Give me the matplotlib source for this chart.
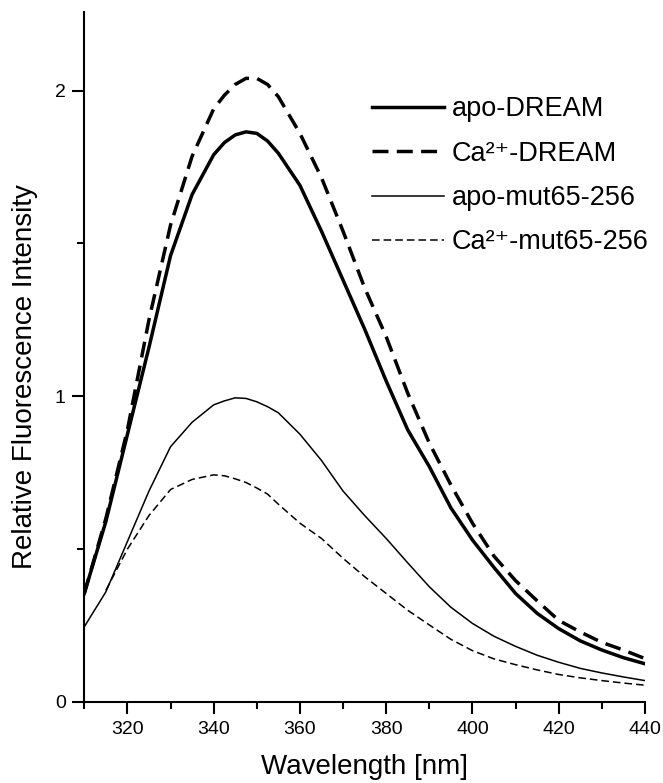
import matplotlib
matplotlib.use("Agg")
import matplotlib.pyplot as plt
from matplotlib.ticker import MultipleLocator

plt.rcParams['font.family'] = ['Liberation Sans', 'DejaVu Sans']

# Emission wavelengths (nm)
wavelength = [310, 315, 320, 325, 330, 335, 340, 342.5, 345, 347.5, 350, 352.5,
              355, 360, 365, 370, 375, 380, 385, 390, 395, 400, 405, 410, 415,
              420, 425, 430, 435, 440]
wavelength_ca_mut = wavelength[1:]

# Relative fluorescence intensity of each sample
apo_dream = [0.355, 0.59, 0.875, 1.16, 1.46, 1.66, 1.79, 1.83, 1.855, 1.865, 1.86,
             1.835, 1.795, 1.69, 1.54, 1.38, 1.22, 1.05, 0.89, 0.77, 0.635, 0.53,
             0.44, 0.355, 0.29, 0.24, 0.20, 0.17, 0.145, 0.125]
ca_dream = [0.355, 0.60, 0.89, 1.25, 1.56, 1.785, 1.94, 1.985, 2.02, 2.04, 2.04,
            2.02, 1.98, 1.86, 1.715, 1.54, 1.355, 1.195, 1.01, 0.847, 0.71, 0.585,
            0.477, 0.397, 0.331, 0.267, 0.229, 0.195, 0.17, 0.142]
apo_mut = [0.246, 0.36, 0.525, 0.69, 0.835, 0.915, 0.972, 0.985, 0.995, 0.993,
           0.982, 0.966, 0.946, 0.876, 0.79, 0.69, 0.61, 0.535, 0.455, 0.377,
           0.31, 0.257, 0.215, 0.182, 0.153, 0.13, 0.11, 0.095, 0.082, 0.07]
ca_mut = [0.365, 0.50, 0.61, 0.695, 0.728, 0.743, 0.74, 0.73, 0.718, 0.70, 0.68,
          0.647, 0.585, 0.535, 0.47, 0.41, 0.355, 0.30, 0.252, 0.205, 0.168,
          0.141, 0.122, 0.105, 0.09, 0.079, 0.07, 0.062, 0.055]

labels = ['apo-DREAM', 'Ca\u00b2\u207a-DREAM', 'apo-mut65-256', 'Ca\u00b2\u207a-mut65-256']
x_ticks = [320, 340, 360, 380, 400, 420, 440]
y_ticks = [0, 1, 2]

fig = plt.figure(figsize=(6.63, 7.83), dpi=100)
ax = fig.add_axes([0.1271, 0.10345, 0.8457, 0.8812])

thick, thin = 2.5, 1.1
ax.plot(wavelength, apo_dream, color='black', lw=thick, label=labels[0])
ax.plot(wavelength, ca_dream, color='black', lw=thick, ls=(0, (4.6, 2.4)), label=labels[1])
ax.plot(wavelength, apo_mut, color='black', lw=thin, label=labels[2])
ax.plot(wavelength_ca_mut, ca_mut, color='black', lw=thin, ls=(0, (5, 2.6)), label=labels[3])

ax.set_xlim(310, 440)
ax.set_ylim(0, 2.257)
ax.set_xticks(x_ticks)
ax.set_yticks(y_ticks)
ax.xaxis.set_minor_locator(MultipleLocator(10))
ax.yaxis.set_minor_locator(MultipleLocator(0.5))

for side in ('top', 'right'):
    ax.spines[side].set_visible(False)
for side in ('left', 'bottom'):
    ax.spines[side].set_linewidth(1.5)

ax.tick_params(which='major', direction='out', length=8.4, width=1.5, labelsize=14, pad=5)
ax.tick_params(which='minor', direction='out', length=4.8, width=1.5)

ax.set_xlabel('Wavelength [nm]', fontsize=20, labelpad=12)
ax.set_ylabel('Relative Fluorescence Intensity', fontsize=20)
ax.yaxis.set_label_coords(-0.083, 0.472)

leg = ax.legend(loc='upper left', bbox_to_anchor=(0.513, 0.878), frameon=False,
                fontsize=19.5, handlelength=2.68, handletextpad=0.26,
                labelspacing=0.68, borderpad=0, borderaxespad=0)

fig.savefig('out.png', dpi=100)
